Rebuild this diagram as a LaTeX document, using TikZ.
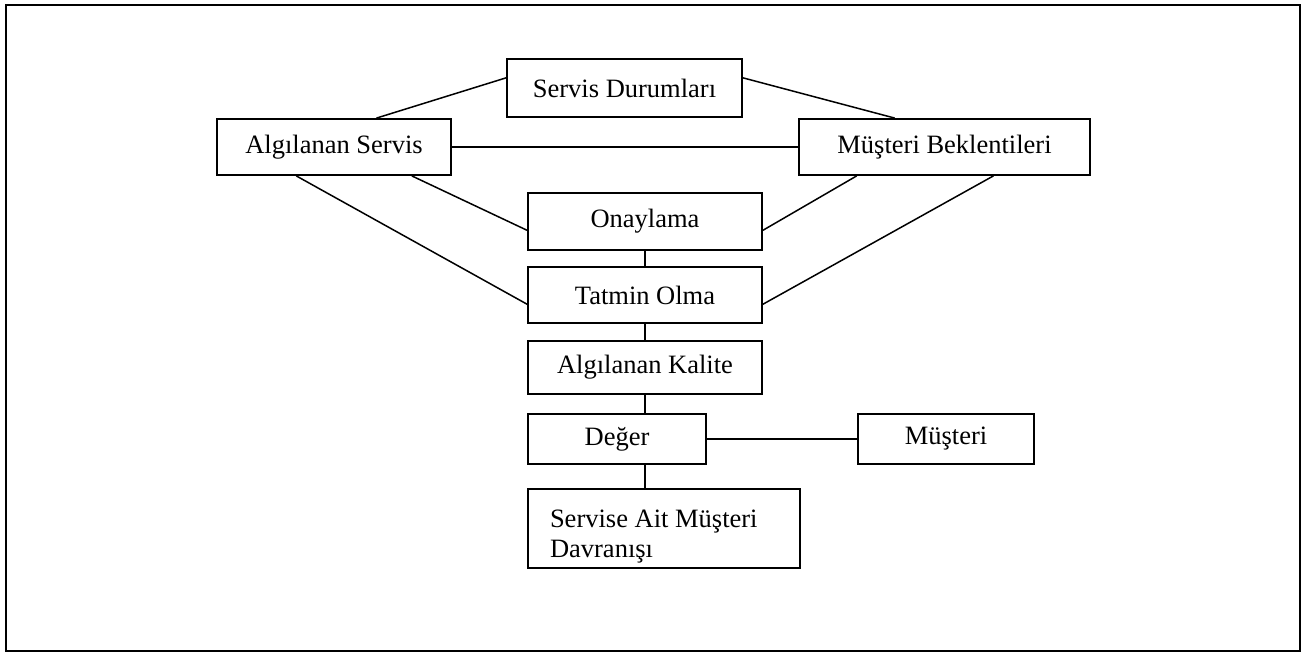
\documentclass[tikz,border=0pt]{standalone}
\usepackage{fontspec}
\setmainfont{Liberation Serif}
\usetikzlibrary{calc}
\begin{document}
\begin{tikzpicture}[x=0.5pt,y=-0.5pt,
  box/.style={draw,line width=0.9pt,inner sep=0pt,font=\fontsize{13.25}{15}\selectfont},
  link/.style={line width=0.75pt}]
\useasboundingbox (0,0) rectangle (1309,657);
\draw[line width=1pt] (6,5) rectangle (1300,651);
\node[box,minimum width=117.5pt,minimum height=29pt] (sd) at (624.5,88) {Servis Durumları};
\node[box,minimum width=117pt,minimum height=28pt] (as) at (334,147) {Algılanan Servis};
\node[box,minimum width=145.5pt,minimum height=28pt] (mb) at (944.5,147) {Müşteri Beklentileri};
\node[box,minimum width=117pt,minimum height=28.5pt] (on) at (645,221.5) {Onaylama};
\node[box,minimum width=117pt,minimum height=28pt] (to) at (645,295) {Tatmin Olma};
\node[box,minimum width=117pt,minimum height=26.5pt] (ak) at (645,367.5) {Algılanan Kalite};
\node[box,minimum width=89pt,minimum height=25pt] (de) at (617,439) {Değer};
\node[box,minimum width=88pt,minimum height=25pt] (mu) at (946,439) {Müşteri};
\node[box,minimum width=136pt,minimum height=39.5pt,inner xsep=11pt,text width=114pt,align=flush left] (sa) at (664,528.5) {\rule{0pt}{17pt}Servise Ait Müşteri\\Davranışı};
\draw[link] ($(sd.north west)!0.33!(sd.south west)$) -- ($(as.north west)!0.68!(as.north east)$);
\draw[link] ($(sd.north east)!0.33!(sd.south east)$) -- ($(mb.north west)!0.33!(mb.north east)$);
\draw[link] (as.east) -- (mb.west);
\draw[link] ($(as.south west)!0.83!(as.south east)$) -- ($(on.north west)!0.65!(on.south west)$);
\draw[link] ($(as.south west)!0.34!(as.south east)$) -- ($(to.north west)!0.66!(to.south west)$);
\draw[link] ($(mb.south west)!0.2!(mb.south east)$) -- ($(on.north east)!0.65!(on.south east)$);
\draw[link] ($(mb.south west)!0.667!(mb.south east)$) -- ($(to.north east)!0.66!(to.south east)$);
\draw[link] (on.south) -- (to.north);
\draw[link] (to.south) -- (ak.north);
\draw[link] (ak.south) -- (ak.south |- de.north);
\draw[link] (de.south -| ak.south) -- (ak.south |- sa.north);
\draw[link] (de.east) -- (mu.west);
\end{tikzpicture}
\end{document}
